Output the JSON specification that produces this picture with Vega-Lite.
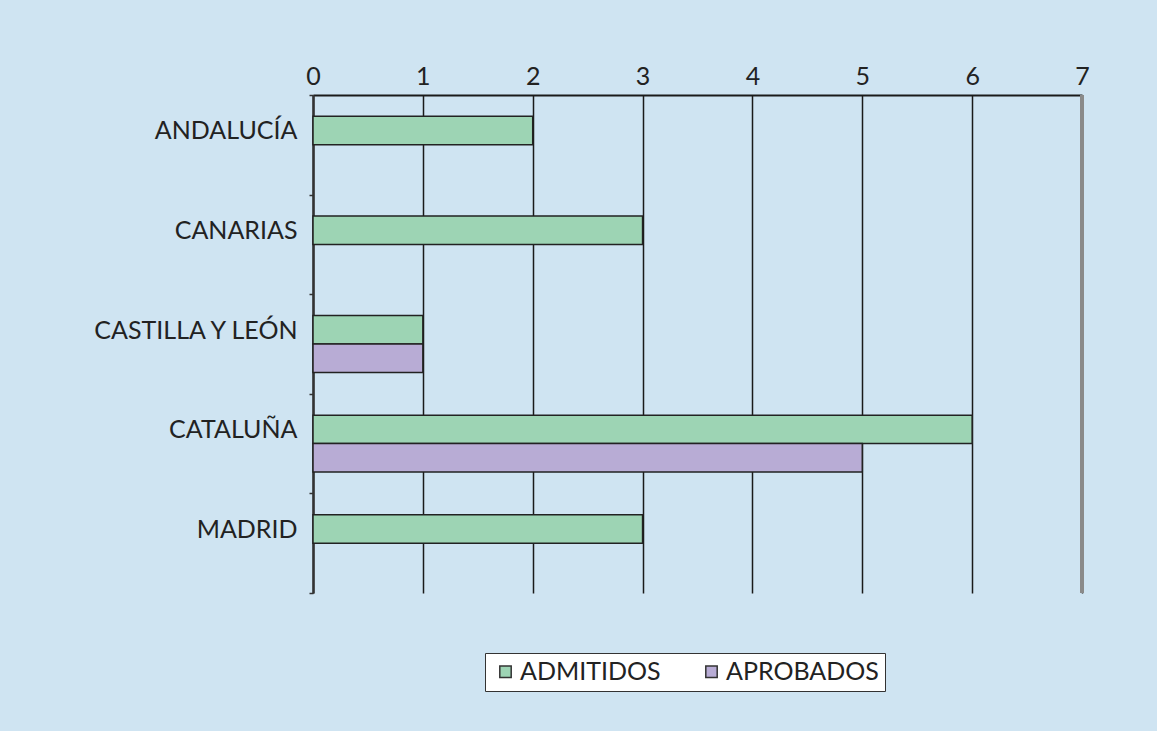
{
  "$schema": "https://vega.github.io/schema/vega-lite/v6.json",
  "width": 769,
  "height": 498,
  "autosize": {"type": "none"},
  "padding": {"left": 313, "top": 95, "right": 75, "bottom": 138},
  "background": "#cfe4f2",
  "config": {
    "view": {"stroke": null},
    "font": "Lato",
    "axis": {"labelFont": "Lato", "labelColor": "#222222", "labelFontSize": 25, "labelFontWeight": "normal", "titleFont": "Lato"},
    "legend": {"labelFont": "Lato"}
  },
  "data": {
    "values": [
      {"comunidad": "ANDALUCÍA", "serie": "ADMITIDOS", "valor": 2},
      {"comunidad": "CANARIAS", "serie": "ADMITIDOS", "valor": 3},
      {"comunidad": "CASTILLA Y LEÓN", "serie": "ADMITIDOS", "valor": 1},
      {"comunidad": "CASTILLA Y LEÓN", "serie": "APROBADOS", "valor": 1},
      {"comunidad": "CATALUÑA", "serie": "ADMITIDOS", "valor": 6},
      {"comunidad": "CATALUÑA", "serie": "APROBADOS", "valor": 5},
      {"comunidad": "MADRID", "serie": "ADMITIDOS", "valor": 3}
    ]
  },
  "layer": [
    {
      "mark": {"type": "bar", "stroke": "#222222", "strokeWidth": 1.5},
      "encoding": {
        "y": {
          "field": "comunidad",
          "type": "nominal",
          "sort": ["ANDALUCÍA", "CANARIAS", "CASTILLA Y LEÓN", "CATALUÑA", "MADRID"],
          "scale": {"paddingInner": 0, "paddingOuter": 0},
          "axis": {
            "title": null,
            "tickBand": "extent",
            "ticks": true,
            "tickSize": 4,
            "tickWidth": 1.5,
            "tickColor": "#333333",
            "domainColor": "#333333",
            "domainWidth": 2.5,
            "labelPadding": 12,
            "labelOffset": -14,
            "labelLimit": 300,
            "grid": false
          }
        },
        "yOffset": {
          "field": "serie",
          "type": "nominal",
          "scale": {"domain": ["ADMITIDOS", "APROBADOS"], "paddingInner": 0, "paddingOuter": 0.75}
        },
        "x": {
          "field": "valor",
          "type": "quantitative",
          "scale": {"domain": [0, 7], "nice": false},
          "axis": {
            "orient": "top",
            "title": null,
            "values": [0, 1, 2, 3, 4, 5, 6, 7],
            "format": "d",
            "labelFlush": false,
            "ticks": false,
            "labelPadding": 6,
            "grid": true,
            "gridColor": "#1a1a1a",
            "gridWidth": 1.5,
            "gridOpacity": 1,
            "domainColor": "#1a1a1a",
            "domainWidth": 2
          }
        },
        "color": {
          "field": "serie",
          "type": "nominal",
          "scale": {"domain": ["ADMITIDOS", "APROBADOS"], "range": ["#9dd4b4", "#b8acd5"]},
          "legend": {
            "title": null,
            "orient": "none",
            "legendX": 172,
            "legendY": 558,
            "direction": "horizontal",
            "fillColor": "#ffffff",
            "strokeColor": "#333333",
            "padding": 6,
            "symbolType": "square",
            "symbolSize": 130,
            "symbolStrokeColor": "#333333",
            "symbolStrokeWidth": 1.5,
            "symbolOpacity": 1,
            "symbolOffset": 2,
            "labelFontSize": 25,
            "labelFontWeight": "normal",
            "labelColor": "#222222",
            "labelOffset": 2,
            "columnPadding": 36
          }
        }
      }
    },
    {
      "mark": {"type": "rule", "color": "#8a8a8a", "strokeWidth": 3},
      "encoding": {"x": {"datum": 7}}
    }
  ]
}
